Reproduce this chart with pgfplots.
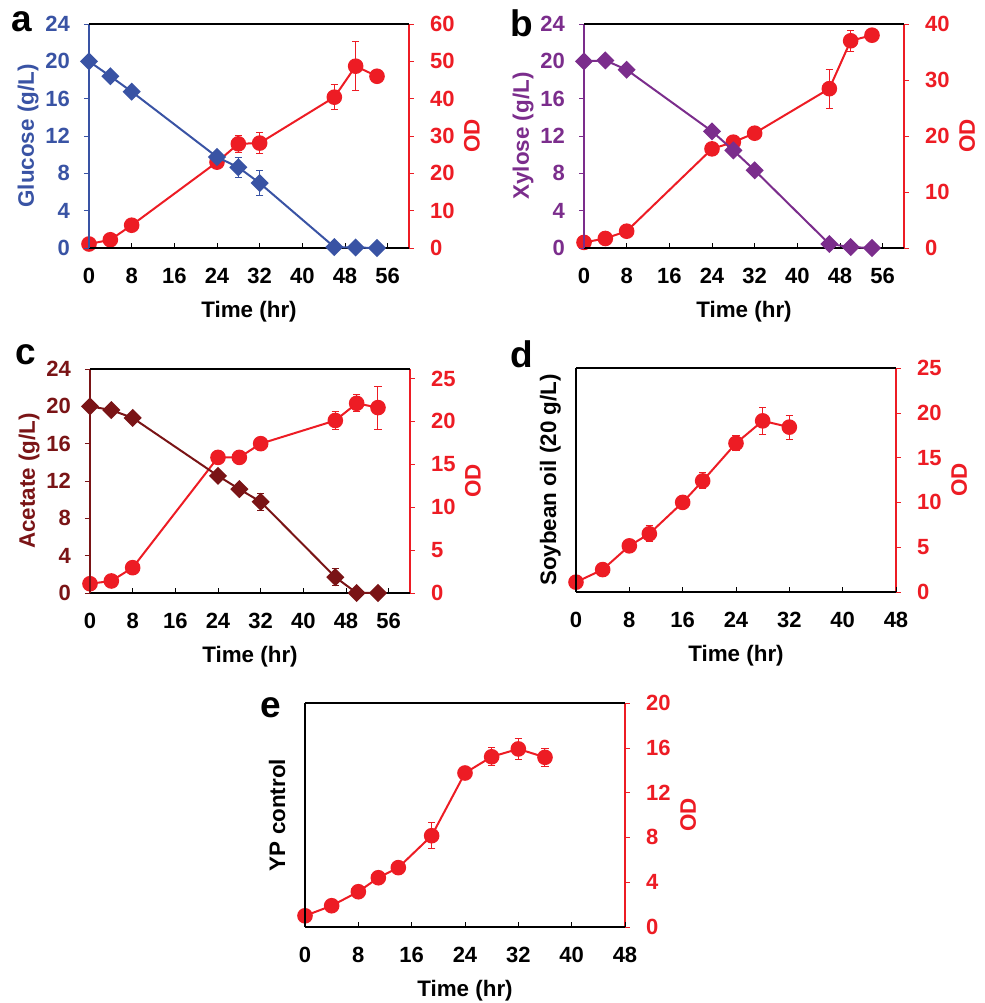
\documentclass[border=0pt]{standalone}
\usepackage{fontspec}
\setmainfont{Liberation Sans}
\usepackage{pgfplots}
\pgfplotsset{compat=1.18}

\definecolor{glc}{RGB}{57,83,164}
\definecolor{xyl}{RGB}{123,45,140}
\definecolor{ace}{RGB}{122,20,22}
\definecolor{odred}{RGB}{237,28,36}

\pgfplotsset{
  panel/.style={
    scale only axis, width=160pt, height=112pt,
    xmin=0, xmax=60, xtick={0,8,...,56},
    /pgf/number format/assume math mode=true,
    tick label style={font=\fontsize{11}{13}\selectfont\bfseries},
    label style={font=\fontsize{11.2}{13}\selectfont\bfseries},
    major tick length=2.5pt,
    clip=false,
  },
  leftax/.style={panel,
    axis x line*=bottom, axis y line*=left,
    xtick align=inside, ytick align=outside,
    xticklabel style={yshift=-6.5pt, text=black},
    yticklabel style={xshift=-3.5pt, text=#1},
    y axis line style={#1, line width=0.6pt},
    x axis line style={black, line width=0.6pt},
    ytick style={#1}, xtick style={black},
    xlabel={Time (hr)},
    xlabel style={at={(axis description cs:0.5,-0.286)}, anchor=center},
    ylabel style={at={(axis description cs:-0.19,0.5)}, anchor=center, text=#1},
    ymin=0, ymax=24, ytick={0,4,...,24},
    extra description/.code={
      \draw[black, line width=0.6pt] (axis description cs:0,1) -- (axis description cs:1,1);},
  },
  rightax/.style={panel,
    axis x line=none, axis y line*=right,
    ytick align=outside,
    y axis line style={odred, line width=0.6pt},
    ytick style={odred},
    yticklabel style={xshift=4.5pt, text=odred},
    ylabel={OD},
    ylabel style={at={(axis description cs:1.197,0.5)}, anchor=center, text=odred},
    ymin=0,
  },
  odline/.style={odred, line width=1pt, mark=*, mark size=3.4pt, mark options={solid}},
  subline/.style={#1, line width=1pt, mark=square*, mark size=2.7pt, mark options={solid, rotate=45}},
  errs/.style={draw=none, mark=none, forget plot,
    error bars/.cd, y dir=both, y explicit,
    error bar style={line width=0.5pt, #1},
    error mark options={rotate=90, mark size=1.8pt, line width=0.5pt, #1}},
}

\begin{document}
\begin{tikzpicture}
\useasboundingbox (0,0) rectangle (492.5pt,501.5pt);

% panel letters
\node[font=\fontsize{18.5}{22}\selectfont\bfseries] at (11pt,490.5pt) {a};
\node[font=\fontsize{18.5}{22}\selectfont\bfseries] at (261pt,490pt) {b};
\node[font=\fontsize{18.5}{22}\selectfont\bfseries] at (13pt,324pt) {c};
\node[font=\fontsize{18.5}{22}\selectfont\bfseries] at (261pt,324.5pt) {d};
\node[font=\fontsize{18.5}{22}\selectfont\bfseries] at (135.5pt,147.5pt) {e};

% ---------- a: glucose ----------
\begin{axis}[rightax, at={(44.5pt,377.5pt)}, anchor=south west,
  ymax=60, ytick={0,10,...,60}]
\addplot[errs=odred] coordinates {
  (28,27.9) +- (0,2.2) (32,28.1) +- (0,2.8) (46,40.4) +- (0,3.3) (50,48.7) +- (0,6.5)};
\addplot[odline] coordinates {
  (0,1.07)(4,2.2)(8,6.1)(24,23.0)(28,27.9)(32,28.1)(46,40.4)(50,48.7)(54,46.0)};
\end{axis}
\begin{axis}[leftax=glc, at={(44.5pt,377.5pt)}, anchor=south west,
  ylabel={Glucose (g/L)}]
\addplot[errs=glc] coordinates {
  (28,8.64) +- (0,1.1) (32,6.96) +- (0,1.3)};
\addplot[subline=glc] coordinates {
  (0,20)(4,18.4)(8,16.75)(24,9.75)(28,8.64)(32,6.96)(46,0.1)(50,0.05)(54,0)};
\end{axis}

% ---------- b: xylose ----------
\begin{axis}[rightax, at={(292pt,377.5pt)}, anchor=south west,
  ymax=40, ytick={0,10,...,40}]
\addplot[errs=odred] coordinates {
  (28,18.9) +- (0,1.0) (46,28.45) +- (0,3.5) (50,37.0) +- (0,1.9)};
\addplot[odline] coordinates {
  (0,1.0)(4,1.7)(8,3.0)(24,17.7)(28,18.9)(32,20.5)(46,28.45)(50,37.0)(54,38.0)};
\end{axis}
\begin{axis}[leftax=xyl, at={(292pt,377.5pt)}, anchor=south west,
  ylabel={Xylose (g/L)}]
\addplot[subline=xyl] coordinates {
  (0,20)(4,20.1)(8,19.1)(24,12.5)(28,10.46)(32,8.32)(46,0.43)(50,0.1)(54,0)};
\end{axis}

% ---------- c: acetate ----------
\begin{axis}[rightax, at={(45pt,205pt)}, anchor=south west,
  ymax=26.1, ytick={0,5,...,25}]
\addplot[errs=odred] coordinates {
  (46,20.1) +- (0,1.0) (50,22.1) +- (0,1.0) (54,21.6) +- (0,2.5)};
\addplot[odline] coordinates {
  (0,1.08)(4,1.4)(8,2.95)(24,15.8)(28,15.8)(32,17.4)(46,20.1)(50,22.1)(54,21.6)};
\end{axis}
\begin{axis}[leftax=ace, at={(45pt,205pt)}, anchor=south west,
  ylabel={Acetate (g/L)}]
\addplot[errs=ace] coordinates {
  (32,9.77) +- (0,0.9) (46,1.7) +- (0,0.9)};
\addplot[subline=ace] coordinates {
  (0,20)(4,19.6)(8,18.76)(24,12.55)(28,11.13)(32,9.77)(46,1.7)(50,0)(54,0)};
\end{axis}

% ---------- d: soybean oil ----------
\begin{axis}[rightax, at={(288pt,205.5pt)}, anchor=south west,
  xmax=48, ymax=25, ytick={0,5,...,25}]
\addplot[errs=odred] coordinates {
  (11,6.5) +- (0,0.87) (19,12.4) +- (0,0.9) (24,16.6) +- (0,0.85)
  (28,19.1) +- (0,1.5) (32,18.4) +- (0,1.35)};
\addplot[odline] coordinates {
  (0,1.1)(4,2.5)(8,5.15)(11,6.5)(16,10.0)(19,12.4)(24,16.6)(28,19.1)(32,18.4)};
\end{axis}
\begin{axis}[leftax=black, at={(288pt,205.5pt)}, anchor=south west,
  xmax=48, xtick={0,8,...,48}, ytick=\empty,
  ylabel={Soybean oil (20 g/L)},
  ylabel style={at={(axis description cs:-0.08,0.5)}}]
\end{axis}

% ---------- e: YP control ----------
\begin{axis}[rightax, at={(152.5pt,38pt)}, anchor=south west,
  xmax=48, ymax=20, ytick={0,4,...,20}]
\addplot[errs=odred] coordinates {
  (11,4.4) +- (0,0.4) (19,8.15) +- (0,1.15) (24,13.75) +- (0,0.4)
  (28,15.2) +- (0,0.8) (32,15.9) +- (0,0.9) (36,15.15) +- (0,0.8)};
\addplot[odline] coordinates {
  (0,1.0)(4,1.9)(8,3.15)(11,4.4)(14,5.3)(19,8.15)(24,13.75)(28,15.2)(32,15.9)(36,15.15)};
\end{axis}
\begin{axis}[leftax=black, at={(152.5pt,38pt)}, anchor=south west,
  xmax=48, xtick={0,8,...,48}, ytick=\empty,
  ylabel={YP control},
  ylabel style={at={(axis description cs:-0.0875,0.5)}}]
\end{axis}

\end{tikzpicture}
\end{document}
